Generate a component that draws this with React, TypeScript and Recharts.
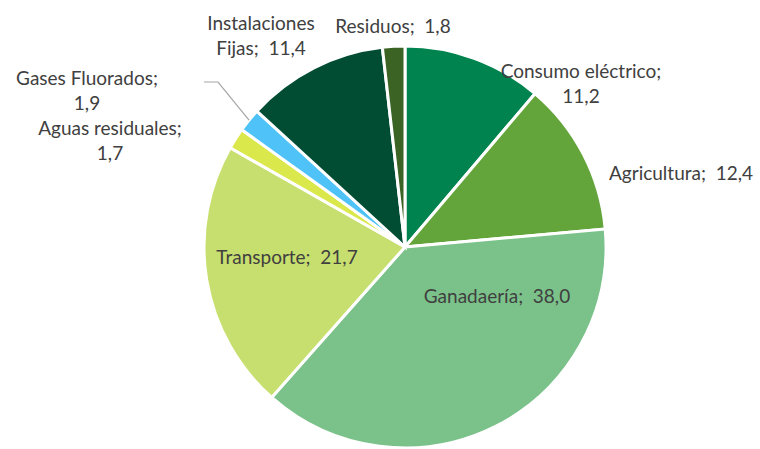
import { PieChart, Pie, Cell } from 'recharts'

const SECTORS = [
  'Consumo eléctrico',
  'Agricultura',
  'Ganadaería',
  'Transporte',
  'Aguas residuales',
  'Gases Fluorados',
  'Instalaciones Fijas',
  'Residuos',
]
const SHARES = [11.2, 12.4, 38.0, 21.7, 1.7, 1.9, 11.4, 1.8]
const COLORS = ['#00834f', '#63a53a', '#7bc28a', '#c7df6e', '#dbe84c', '#4fc3f7', '#004d33', '#3a6324']

// label text lines per slice, offsets from pie centre (Excel "best fit" placement)
const LABEL_LINES: string[][] = [
  ['Consumo eléctrico;', '11,2'],
  ['Agricultura;  12,4'],
  ['Ganadaería;  38,0'],
  ['Transporte;  21,7'],
  ['Aguas residuales;', '1,7'],
  ['Gases Fluorados;', '1,9'],
  ['Instalaciones', 'Fijas;  11,4'],
  ['Residuos;  1,8'],
]
const LABEL_OFFSETS: [number, number][] = [
  [176, -177],
  [276, -75],
  [92, 48],
  [-118, 9],
  [-295, -120],
  [-318, -170],
  [-144, -225],
  [-12, -222],
]

const data = SECTORS.map((name, i) => ({ name, value: SHARES[i] }))

const RAD = Math.PI / 180
const LINE_H = 25

function renderLabel(props: any) {
  const { cx, cy, index, midAngle, outerRadius } = props
  const [dx, dy] = LABEL_OFFSETS[index]
  const x = cx + dx
  const y = cy + dy
  const lines = LABEL_LINES[index]
  let leader = null
  if (index === 5) {
    // leader line from the label to the Gases Fluorados slice
    const ex = cx + outerRadius * Math.cos(-midAngle * RAD)
    const ey = cy + outerRadius * Math.sin(-midAngle * RAD)
    leader = (
      <polyline
        points={`${x + 117},${y + 5} ${x + 131},${y + 5} ${ex},${ey}`}
        fill="none"
        stroke="#a6a6a6"
        strokeWidth={1.2}
      />
    )
  }
  return (
    <g key={`lbl-${index}`}>
      {leader}
      {lines.map((t, k) => (
        <text
          key={k}
          x={x}
          y={y + k * LINE_H}
          textAnchor="middle"
          dominantBaseline="central"
          fill="#404040"
          fontSize={19}
          fontFamily="Lato, 'Open Sans', sans-serif"
          style={{ whiteSpace: 'pre' }}
        >
          {t}
        </text>
      ))}
    </g>
  )
}

export default function App() {
  return (
    <div style={{ position: 'absolute', left: 0, top: 0, width: 760, height: 449, background: '#fff' }}>
      <PieChart width={760} height={449} margin={{ top: 0, right: 0, bottom: 0, left: 0 }}>
        <Pie
          data={data}
          dataKey="value"
          nameKey="name"
          cx={405}
          cy={247}
          outerRadius={201}
          startAngle={90}
          endAngle={-270}
          stroke="#ffffff"
          strokeWidth={3}
          label={renderLabel}
          labelLine={false}
          isAnimationActive={false}
        >
          {data.map((d, i) => (
            <Cell key={d.name} fill={COLORS[i]} />
          ))}
        </Pie>
      </PieChart>
    </div>
  )
}
